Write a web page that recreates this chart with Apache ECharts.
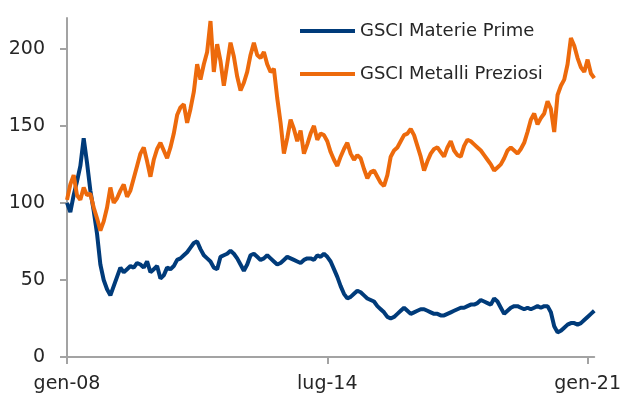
<!DOCTYPE html>
<html>
<head>
<meta charset="utf-8">
<title>GSCI</title>
<script src="https://cdn.jsdelivr.net/npm/echarts@6/dist/echarts.min.js"></script>
<style>
    html, body { margin: 0; padding: 0; background: #fff; }
    #main1 { width: 624px; height: 399px; }
</style>
</head>
<body>
<div id="main1"></div>
<script>
// mesi per le etichette dell'asse x (gen-08 ... mar-21)
var mesi = ['gen', 'feb', 'mar', 'apr', 'mag', 'giu', 'lug', 'ago', 'set', 'ott', 'nov', 'dic'];
var annoInizio = 2008;
var numMesi = 159;
var yTicks = [0, 50, 100, 150, 200];

var materiePrime = [
    100, 94, 105, 114, 124, 142, 126, 108, 95, 80, 60, 50,
    44, 40, 46, 52, 58, 55, 57, 59, 58, 61, 60, 58,
    62, 55, 57, 59, 51, 53, 58, 57, 59, 63, 64, 66,
    68, 71, 74, 75, 70, 66, 64, 62, 58, 57, 65, 66,
    67, 69, 67, 64, 60, 56, 60, 66, 67, 65, 63, 64,
    66, 64, 62, 60, 61, 63, 65, 64, 63, 62, 61, 63,
    64, 64, 63, 66, 65, 67, 65, 62, 57, 52, 46, 41,
    38, 39, 41, 43, 42, 40, 38, 37, 36, 33, 31, 29,
    26, 25, 26, 28, 30, 32, 30, 28, 29, 30, 31, 31,
    30, 29, 28, 28, 27, 27, 28, 29, 30, 31, 32, 32,
    33, 34, 34, 35, 37, 36, 35, 34, 38, 36, 32, 28,
    30, 32, 33, 33, 32, 31, 32, 31, 32, 33, 32, 33,
    33, 29, 20, 16, 17, 19, 21, 22, 22, 21, 22, 24,
    26, 28, 30
];

var metalliPreziosi = [
    102, 112, 118, 105, 102, 110, 105, 106, 97, 90, 82, 88,
    97, 110, 100, 103, 108, 112, 104, 108, 116, 124, 132, 136,
    127, 117, 128, 135, 139, 134, 129, 136, 145, 157, 162, 164,
    152, 161, 172, 190, 180, 190, 198, 218, 185, 203, 192, 176,
    190, 204, 195, 182, 173, 178, 185, 196, 204, 196, 194, 198,
    190, 185, 187, 168, 152, 132, 142, 154, 148, 140, 147, 132,
    138, 145, 150, 141, 145, 144, 140, 133, 128, 124, 130, 135,
    139, 132, 128, 131, 129, 122, 116, 120, 121, 117, 113, 111,
    118, 130, 134, 136, 140, 144, 145, 148, 144, 137, 130, 121,
    127, 132, 135, 136, 133, 130, 136, 140, 134, 131, 130, 137,
    141, 140, 138, 136, 134, 131, 128, 125, 121, 123, 125, 129,
    134, 136, 134, 132, 135, 139, 146, 154, 158, 151, 155, 158,
    166, 161, 146, 170, 176, 180, 190, 207, 202, 194, 188, 185,
    193, 184, 181
];

var gsciChart = (function () {
    var colori = ['#003B7A', '#ED6A0C'];
    var testo = '#262626';
    var grigio = '#A3A3A3';

    var buildCategorie = function () {
        var cat = [];
        for (var i = 0; i < numMesi; i++) {
            var anno = annoInizio + Math.floor(i / 12);
            cat.push(mesi[i % 12] + '-' + String(anno).slice(2));
        }
        return cat;
    }

    var ogni78 = function (idx) {
        return idx % 78 === 0;
    }

    var Return = {
        init: function () {
            var myChart = echarts.init(document.getElementById('main1'));
            var option = {
                animation: false,
                color: colori,
                grid: {
                    left: 67,
                    right: 26,
                    top: 18,
                    bottom: 42
                },
                legend: {
                    orient: 'vertical',
                    left: 295,
                    top: 16,
                    icon: 'rect',
                    itemWidth: 55,
                    itemHeight: 4,
                    itemGap: 23,
                    textStyle: {
                        fontFamily: 'DejaVu Sans',
                        fontSize: 18,
                        lineHeight: 20,
                        color: testo
                    },
                    data: ['GSCI Materie Prime', 'GSCI Metalli Preziosi']
                },
                xAxis: {
                    type: 'category',
                    boundaryGap: false,
                    data: buildCategorie(),
                    axisLine: {
                        lineStyle: { color: grigio, width: 2 }
                    },
                    axisTick: {
                        interval: ogni78,
                        length: 7,
                        lineStyle: { color: grigio, width: 2 }
                    },
                    axisLabel: {
                        interval: ogni78,
                        margin: 18,
                        fontFamily: 'DejaVu Sans',
                        fontSize: 19,
                        color: testo
                    }
                },
                yAxis: {
                    type: 'value',
                    min: 0,
                    max: 220,
                    interval: 50,
                    splitLine: { show: false },
                    axisLine: {
                        show: true,
                        lineStyle: { color: grigio, width: 2 }
                    },
                    axisTick: {
                        show: true,
                        length: 7,
                        customValues: yTicks,
                        lineStyle: { color: grigio, width: 2 }
                    },
                    axisLabel: {
                        customValues: yTicks,
                        margin: 22,
                        fontFamily: 'DejaVu Sans',
                        fontSize: 19,
                        color: testo
                    }
                },
                series: [{
                    name: 'GSCI Materie Prime',
                    type: 'line',
                    data: materiePrime,
                    showSymbol: false,
                    lineStyle: { width: 4 }
                }, {
                    name: 'GSCI Metalli Preziosi',
                    type: 'line',
                    data: metalliPreziosi,
                    showSymbol: false,
                    lineStyle: { width: 4 }
                }]
            };
            myChart.setOption(option);
        }
    }
    return Return;
})();

; (function () {
    gsciChart.init();
})();
</script>
</body>
</html>
